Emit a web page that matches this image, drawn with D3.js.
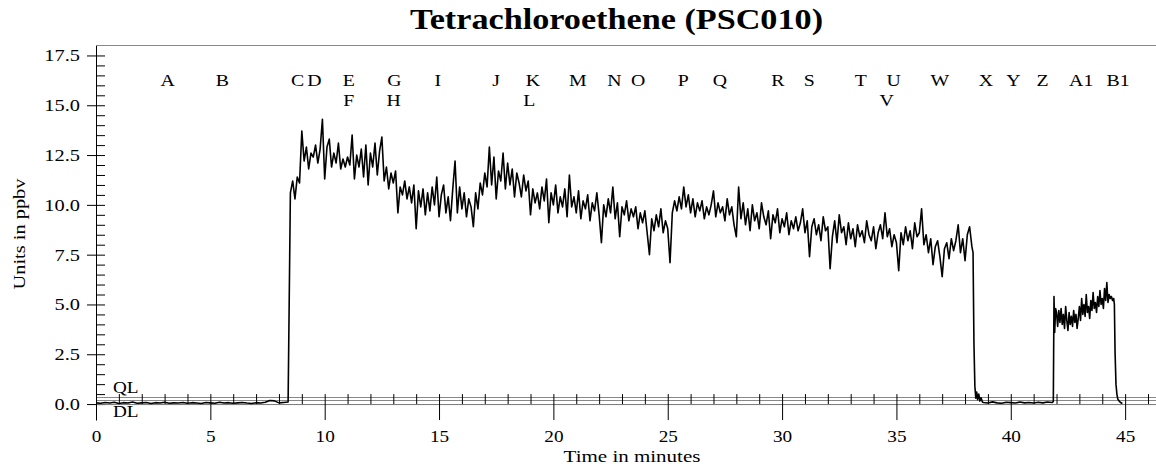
<!DOCTYPE html>
<html>
<head>
<meta charset="utf-8">
<script src="https://cdn.jsdelivr.net/npm/d3@7"></script>
<style>
  body { margin: 0; background: #fff; }
  text { font-family: "Liberation Serif", "Times New Roman", serif; fill: #000; }
</style>
</head>
<body>
<svg id="chart"></svg>
<script>
// tick values
const xTicks = [0, 5, 10, 15, 20, 25, 30, 35, 40, 45];
const yTicks = [0, 2.5, 5, 7.5, 10, 12.5, 15, 17.5];

// event markers along the top (label, time in minutes, row)
const markerLabels = ["A", "B", "C", "D", "E", "F", "G", "H", "I", "J", "K", "L", "M", "N",
  "O", "P", "Q", "R", "S", "T", "U", "V", "W", "X", "Y", "Z", "A1", "B1"];
const markerTimes = [3.13, 5.53, 8.81, 9.55, 11.05, 11.05, 13.05, 13.01, 14.95, 17.5, 19.1, 18.95, 21.07, 22.67,
  23.71, 25.68, 27.28, 29.82, 31.19, 33.44, 34.88, 34.57, 36.9, 38.91, 40.11, 41.39, 43.08, 44.69];
const markerRows = [0, 0, 0, 0, 0, 1, 0, 1, 0, 0, 0, 1, 0, 0,
  0, 0, 0, 0, 0, 0, 0, 1, 0, 0, 0, 0, 0, 0];

// quantitation / detection limits (ppbv)
const limitNames = ["QL", "DL"];
const limitValues = [0.35, 0.19];

// signal (ppbv)
// baseline before the first plateau: 0 .. 8.4 min, every 0.2 min
const baseAStart = 0, baseAStep = 0.2;
const baseA = [0.06, 0.04, 0.08, 0.05, 0.09, 0.03, 0.07, 0.05, 0.10, 0.04,
  0.06, 0.08, 0.03, 0.07, 0.05, 0.09, 0.04, 0.06, 0.05, 0.08,
  0.04, 0.07, 0.05, 0.03, 0.08, 0.06, 0.04, 0.09, 0.05, 0.07,
  0.04, 0.06, 0.08, 0.05, 0.03, 0.07, 0.05, 0.09, 0.18, 0.16,
  0.06, 0.08, 0.10];

// first plateau: 8.5 .. 38.3 min, every 0.1 min
const plateauAStart = 8.5, plateauAStep = 0.1;
const plateauA = [
  10.6, 11.2, 10.3, 11.4, 11.1, 13.7, 12.2, 12.9, 11.8, 12.6,
  12.4, 13.0, 12.1, 12.8, 14.3, 11.3, 12.9, 13.3, 11.9, 12.6,
  12.1, 13.1, 11.8, 12.3, 11.9, 12.4, 12.0, 13.5, 11.3, 12.5,
  11.9, 12.8, 11.4, 13.0, 11.0, 12.6, 11.9, 13.1, 11.5, 12.7,
  13.4, 11.2, 11.9, 10.8, 11.6, 11.1, 11.7, 9.6, 10.9, 10.5,
  11.2, 10.3, 10.9, 10.1, 11.0, 8.8, 10.7, 9.9, 10.8, 9.5,
  10.6, 9.7, 10.9, 10.0, 11.4, 9.4, 10.5, 11.0, 9.6, 10.4,
  9.2, 10.8, 12.2, 9.6, 10.9, 9.8, 10.6, 9.4, 10.3, 9.9,
  8.9, 10.6, 9.8, 11.1, 10.5, 11.6, 10.9, 12.9, 11.0, 12.4,
  10.3, 11.7, 11.2, 12.6, 10.8, 12.1, 11.0, 11.8, 10.4, 11.6,
  11.1, 10.4, 11.5, 10.7, 11.2, 9.5, 10.8, 10.1, 10.6, 9.8,
  10.9, 10.2, 11.3, 9.1, 10.6, 10.0, 11.0, 9.6, 10.4, 9.9,
  10.8, 9.4, 11.5, 9.9, 10.4, 9.6, 10.7, 9.3, 10.2, 9.8,
  10.5, 9.2, 10.1, 9.7, 10.6, 9.5, 8.1, 10.0, 9.4, 10.3,
  9.6, 10.9, 9.3, 10.1, 8.4, 9.9, 9.5, 10.2, 9.2, 9.8,
  9.4, 9.9, 8.8, 9.6, 9.1, 9.7, 8.6, 7.5, 9.3, 8.7,
  9.5, 8.9, 9.8, 8.6, 9.2, 8.8, 7.1, 9.6, 10.2, 9.7,
  10.4, 9.8, 10.9, 9.9, 10.5, 9.6, 10.3, 9.4, 10.1, 9.7,
  10.2, 9.3, 9.9, 9.5, 10.0, 10.7, 9.4, 10.1, 9.6, 9.9,
  9.2, 10.3, 9.5, 9.9, 9.0, 8.4, 10.9, 9.3, 10.1, 9.0,
  9.8, 8.7, 10.0, 9.2, 9.6, 8.8, 10.1, 9.4, 9.0, 9.7,
  8.3, 9.5, 9.1, 9.8, 8.6, 9.3, 8.9, 9.6, 8.5, 9.2,
  8.8, 9.4, 8.7, 9.1, 9.8, 8.6, 9.2, 7.4, 8.9, 9.3,
  8.5, 9.0, 8.2, 9.4, 8.7, 8.9, 6.8, 8.4, 9.2, 8.1,
  9.5, 8.6, 8.9, 8.0, 9.1, 8.3, 8.8, 7.9, 9.0, 8.4,
  8.7, 8.1, 9.2, 8.5, 8.2, 8.9, 7.8, 8.6, 9.0, 8.3,
  9.6, 8.4, 8.8, 7.9, 8.5, 8.1, 6.7, 8.6, 8.0, 8.9,
  8.2, 8.7, 7.8, 9.1, 8.4, 8.6, 9.8, 8.0, 8.5, 7.6,
  8.3, 7.0, 7.9, 8.2, 7.4, 6.4, 7.8, 8.1, 7.3, 8.3,
  7.7, 8.2, 9.0, 7.6, 8.3, 7.2, 8.5, 8.9, 7.9];

// fall after the first plateau [minutes, ppbv]
const fallA = [[38.35, 7.6], [38.39, 3.0], [38.43, 0.9], [38.47, 0.3], [38.51, 0.6],
  [38.55, 0.22], [38.6, 0.5], [38.65, 0.15], [38.7, 0.32], [38.76, 0.1]];

// baseline between the plateaus: 38.8 .. 41.8 min, every 0.2 min
const baseBStart = 38.8, baseBStep = 0.2;
const baseB = [0.08, 0.05, 0.11, 0.06, 0.04, 0.09, 0.07, 0.05, 0.10, 0.06,
  0.08, 0.05, 0.09, 0.06, 0.10, 0.08];

// rise into the second plateau [minutes, ppbv]
const riseB = [[41.86, 0.12], [41.89, 5.4], [41.92, 3.6], [41.96, 4.8]];

// second plateau: 42.0 .. 44.5 min, every 0.05 min
const plateauBStart = 42.0, plateauBStep = 0.05;
const plateauB = [4.6, 3.9, 4.7, 4.1, 4.8, 4.0, 4.5, 3.8, 4.9, 4.2,
  3.7, 4.6, 4.0, 4.4, 3.9, 4.7, 4.1, 4.5, 3.8, 4.3,
  4.9, 4.2, 5.3, 4.5, 5.0, 4.4, 5.5, 4.6, 4.9, 4.3,
  5.2, 4.7, 5.6, 4.8, 5.1, 4.6, 5.4, 4.9, 5.7, 5.0,
  5.3, 4.8, 5.8, 5.2, 6.1, 5.1, 5.5, 5.3, 5.4, 5.2, 5.3];

// tail after the second plateau [minutes, ppbv]
const fallB = [[44.53, 5.0], [44.56, 2.6], [44.6, 1.0], [44.64, 0.5], [44.68, 0.25],
  [44.74, 0.15], [44.8, 0.08], [44.88, 0.03]];

const sampled = (start, step, vals) => vals.map((v, i) => [start + i * step, v]);
const trace = [
  ...sampled(baseAStart, baseAStep, baseA),
  ...sampled(plateauAStart, plateauAStep, plateauA),
  ...fallA,
  ...sampled(baseBStart, baseBStep, baseB),
  ...riseB,
  ...sampled(plateauBStart, plateauBStep, plateauB),
  ...fallB
];

const width = 1156, height = 469;
const sx = 1.2;  // the original's lettering is stretched sideways

const svg = d3.select("#chart")
  .attr("width", width)
  .attr("height", height);

const x = d3.scaleLinear().domain([0, 46.35]).range([96, 1156]);
const y = d3.scaleLinear().domain([-0.8, 18.0]).range([420, 45.5]);

function label(str, px, py, size, anchor, extra) {
  return svg.append("text")
    .attr("transform", `translate(${px},${py})${extra || ""} scale(${sx},1)`)
    .attr("text-anchor", anchor)
    .style("font-size", size + "px")
    .text(str);
}

// title and axis titles
label("Tetrachloroethene (PSC010)", 616.5, 29, 28.5, "middle").style("font-weight", "bold");
label("Time in minutes", 632, 461.5, 17.5, "middle");
label("Units in ppbv", 25, 234, 17, "middle", " rotate(-90)");

// top frame line
svg.append("line")
  .attr("x1", x(0)).attr("x2", width)
  .attr("y1", 45.5).attr("y2", 45.5)
  .attr("stroke", "#888");

// limit lines
svg.selectAll(".limit")
  .data(limitValues)
  .enter().append("line")
  .attr("class", "limit")
  .attr("x1", x(0)).attr("x2", width)
  .attr("y1", d => Math.round(y(d)) + 0.5)
  .attr("y2", d => Math.round(y(d)) + 0.5)
  .attr("stroke", "#888");

label(limitNames[0], 113, y(limitValues[0]) - 4, 16, "start");
label(limitNames[1], 113, y(limitValues[1]) + 17, 16, "start");

// y axis: major ticks cross the axis, minor ticks point inwards
const yAxis = svg.append("g")
  .attr("transform", `translate(${x(0)},0)`)
  .call(d3.axisLeft(y).tickValues(yTicks).tickFormat(d3.format(".1f")).tickSizeOuter(0));
yAxis.selectAll(".tick line").attr("x1", 9).attr("x2", -9);
yAxis.selectAll(".tick text")
  .attr("x", -16 / sx)
  .attr("transform", `scale(${sx},1)`)
  .style("font-size", "17px")
  .style("font-family", null);

svg.append("g")
  .attr("transform", `translate(${x(0)},0)`)
  .call(d3.axisLeft(y).tickValues(d3.range(0.5, 18, 0.5).filter(v => v % 2.5 !== 0))
    .tickSize(-9).tickFormat(""))
  .select(".domain").remove();

// x axis along zero
const xAxis = svg.append("g")
  .attr("transform", `translate(0,${y(0)})`)
  .call(d3.axisBottom(x).tickValues(xTicks).tickSizeOuter(0));
xAxis.select(".domain").attr("stroke", "#777");
xAxis.selectAll(".tick line").attr("y1", -10).attr("y2", 16);
xAxis.selectAll(".tick text")
  .attr("y", 27)
  .attr("transform", `scale(${sx},1)`)
  .style("font-size", "16px")
  .style("font-family", null);

svg.append("g")
  .attr("transform", `translate(0,${y(0)})`)
  .call(d3.axisBottom(x).tickValues(d3.range(1, 47).filter(v => v % 5 !== 0))
    .tickSize(-10).tickFormat(""))
  .select(".domain").remove();

// event markers
markerLabels.forEach((m, i) => {
  label(m, x(markerTimes[i]), 85.5 + markerRows[i] * 20, 16.5, "middle");
});

// the trace
svg.append("path")
  .datum(trace)
  .attr("fill", "none")
  .attr("stroke", "#000")
  .attr("stroke-width", 1.6)
  .attr("stroke-linejoin", "round")
  .attr("d", d3.line().x(d => x(d[0])).y(d => y(d[1])));
</script>
</body>
</html>
